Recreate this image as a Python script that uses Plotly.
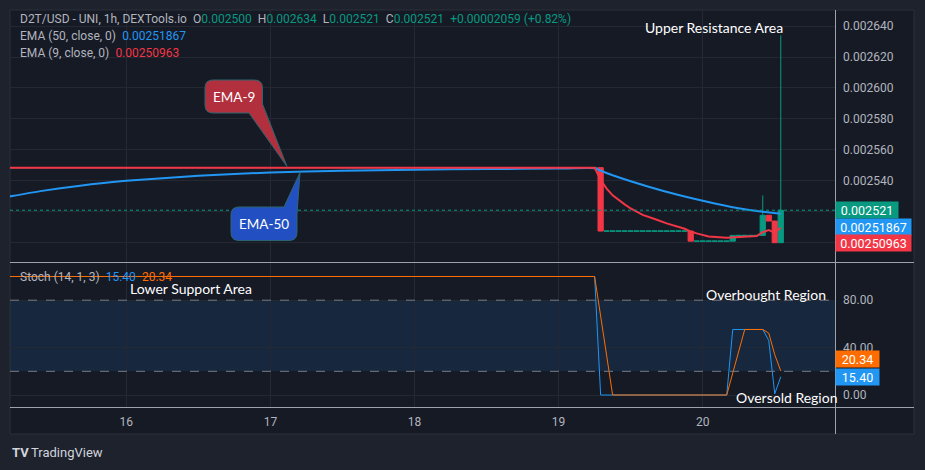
import pandas as pd
import plotly.graph_objects as go

# ------------------------------------------------------------------ data
MONTH = "2024-03-"

# traded hourly candles
CANDLE_TIME = ["19 07:00", "19 22:00", "20 05:00", "20 10:00", "20 11:00", "20 12:00", "20 13:00"]
CANDLE_OPEN = [0.0025485, 0.0025075, 0.0025010, 0.0025047, 0.0025177, 0.0025140, 0.0025000]
CANDLE_HIGH = [0.0025485, 0.0025075, 0.0025047, 0.0025306, 0.0025177, 0.0025140, 0.0026340]
CANDLE_LOW = [0.0025075, 0.0025010, 0.0025010, 0.0025047, 0.0025140, 0.0025000, 0.0025000]
CANDLE_CLOSE = [0.0025075, 0.0025010, 0.0025047, 0.0025177, 0.0025140, 0.0025000, 0.0025210]

# runs of flat (no-trade) hourly candles: start, end, price
DOJI_START = ["15 04:00", "19 08:00", "19 23:00", "20 06:00"]
DOJI_END = ["19 06:00", "19 21:00", "20 04:00", "20 09:00"]
DOJI_PRICE = [0.0025485, 0.0025075, 0.0025010, 0.0025047]

# EMA (50, close)
EMA50_TIME = ["15 04:00", "15 10:00", "15 16:00", "16 00:00", "16 12:00", "17 00:00", "17 12:00",
              "18 00:00", "18 12:00", "19 00:00", "19 06:00", "19 07:00", "19 09:00", "19 15:00",
              "19 20:00", "20 02:00", "20 07:00", "20 10:00", "20 13:00"]
EMA50_VAL = [0.0025295, 0.0025335, 0.0025367, 0.0025400, 0.0025432, 0.0025454, 0.0025465,
             0.0025472, 0.0025476, 0.0025479, 0.0025481, 0.0025466, 0.0025436, 0.0025362,
             0.0025308, 0.0025254, 0.0025216, 0.0025200, 0.00251867]

# EMA (9, close)
EMA9_TIME = ["15 04:00", "19 06:00", "19 07:00", "19 08:00", "19 09:00", "19 10:00", "19 11:00",
             "19 12:00", "19 13:00", "19 14:00", "19 16:00", "19 18:00", "19 21:00", "19 22:00",
             "19 23:00", "20 01:00", "20 04:00", "20 05:00", "20 09:00", "20 10:00", "20 11:00",
             "20 12:00", "20 13:00"]
EMA9_VAL = [0.0025485, 0.0025485, 0.0025405, 0.0025350, 0.0025306, 0.0025274, 0.0025248,
            0.0025221, 0.0025198, 0.0025180, 0.0025153, 0.0025125, 0.0025090, 0.0025072,
            0.0025060, 0.0025040, 0.0025032, 0.0025034, 0.0025043, 0.0025068, 0.0025081,
            0.0025065, 0.00250963]

# Stochastic (14, 1, 3)
STOCH_K_TIME = ["15 04:00", "19 06:00", "19 07:00", "20 04:00", "20 05:00", "20 10:00",
                "20 11:00", "20 12:00", "20 13:00"]
STOCH_K = [100, 100, 0, 0, 55.3, 55.3, 46.0, 1.0, 15.40]
STOCH_D_TIME = ["15 04:00", "19 06:00", "19 07:00", "19 08:00", "19 09:00", "20 04:00", "20 05:00",
                "20 06:00", "20 07:00", "20 10:00", "20 11:00", "20 12:00", "20 13:00"]
STOCH_D = [100, 100, 66.7, 33.3, 0, 0, 18.4, 36.9, 55.3, 55.3, 52.2, 34.0, 20.34]

LEGEND_OHLC = ["0.002500", "0.002634", "0.002521", "0.002521"]
LEGEND_CHANGE = "+0.00002059 (+0.82%)"

PRICE_TICKS = [0.00250, 0.00252, 0.00254, 0.00256, 0.00258, 0.00260, 0.00262, 0.00264]
PRICE_TICK_TEXT = ["", "", "0.002540", "0.002560", "0.002580", "0.002600", "0.002620", "0.002640"]
STOCH_TICKS = [0, 40, 80]
STOCH_TICK_TEXT = ["0.00", "40.00", "80.00"]
DAY_TICKS = ["16 00:00", "17 00:00", "18 00:00", "19 00:00", "20 00:00"]
DAY_TICK_TEXT = ["16", "17", "18", "19", "20"]

# ------------------------------------------------------------------ helpers
def T(s):
    return pd.Timestamp(MONTH + s)

W, H = 925, 470
PL, PR, PT, PB = 10, 836, 10, 407


def fx(p):
    return (p - PL) / (PR - PL)


def fy(p):
    return (PB - p) / (PB - PT)


BG_OUT = "#1e222d"
BG_IN = "#161a25"
GRID = "#242833"
TXT = "#b2b5be"
UP = "#089981"
DOWN = "#f23645"
BLUE = "#2196f3"
ORANGE = "#ff6d00"
SEP = "#9ea2ab"

doji_t, doji_p = [], []
for s, e, p in zip(DOJI_START, DOJI_END, DOJI_PRICE):
    for t in pd.date_range(T(s), T(e), freq="1h"):
        doji_t.append(t)
        doji_p.append(p)

fig = go.Figure()

fig.add_trace(go.Candlestick(
    x=doji_t, open=doji_p, high=doji_p, low=doji_p, close=doji_p,
    increasing=dict(line=dict(color=UP, width=1), fillcolor=UP),
    decreasing=dict(line=dict(color=UP, width=1), fillcolor=UP),
    whiskerwidth=0, hoverinfo="skip", xaxis="x", yaxis="y"))

fig.add_trace(go.Candlestick(
    x=[T(s) for s in CANDLE_TIME], open=CANDLE_OPEN, high=CANDLE_HIGH,
    low=CANDLE_LOW, close=CANDLE_CLOSE,
    increasing=dict(line=dict(color=UP, width=1), fillcolor=UP),
    decreasing=dict(line=dict(color=DOWN, width=1), fillcolor=DOWN),
    whiskerwidth=0, xaxis="x", yaxis="y"))

fig.add_trace(go.Scatter(x=[T(s) for s in EMA50_TIME], y=EMA50_VAL, mode="lines",
                         line=dict(color=BLUE, width=2, shape="spline", smoothing=0.5),
                         xaxis="x", yaxis="y"))
fig.add_trace(go.Scatter(x=[T(s) for s in EMA9_TIME], y=EMA9_VAL, mode="lines",
                         line=dict(color=DOWN, width=2),
                         xaxis="x", yaxis="y"))

fig.add_trace(go.Scatter(x=[T(s) for s in STOCH_K_TIME], y=STOCH_K, mode="lines",
                         line=dict(color=BLUE, width=1), xaxis="x", yaxis="y2"))
fig.add_trace(go.Scatter(x=[T(s) for s in STOCH_D_TIME], y=STOCH_D, mode="lines",
                         line=dict(color=ORANGE, width=1), xaxis="x", yaxis="y2"))

SPLIT = fy(262.5)

shapes = [
    # inner panel background (covers plot + axis areas)
    dict(type="rect", xref="paper", yref="paper", x0=fx(10), x1=fx(914), y0=fy(434), y1=fy(10),
         fillcolor=BG_IN, line=dict(color="#2a2e39", width=1), layer="below"),
    # stochastic band 20-80
    dict(type="rect", xref="paper", yref="y2", x0=0, x1=1, y0=20, y1=80,
         fillcolor="rgba(33,150,243,0.12)", line=dict(width=0), layer="below"),
    dict(type="line", xref="paper", yref="y2", x0=0, x1=1, y0=80, y1=80,
         line=dict(color="#787b86", width=1, dash="dash")),
    dict(type="line", xref="paper", yref="y2", x0=0, x1=1, y0=20, y1=20,
         line=dict(color="#787b86", width=1, dash="dash")),
    # last close dotted line
    dict(type="line", xref="paper", yref="y", x0=0, x1=1, y0=CANDLE_CLOSE[-1], y1=CANDLE_CLOSE[-1],
         line=dict(color=UP, width=1, dash="dot")),
    # separators
    dict(type="line", xref="paper", yref="paper", x0=fx(835.5), x1=fx(835.5), y0=fy(434), y1=fy(10),
         line=dict(color=SEP, width=1)),
    dict(type="line", xref="paper", yref="paper", x0=fx(10), x1=fx(914), y0=SPLIT, y1=SPLIT,
         line=dict(color=SEP, width=1)),
    dict(type="line", xref="paper", yref="paper", x0=fx(10), x1=fx(914), y0=fy(407.5), y1=fy(407.5),
         line=dict(color=SEP, width=1)),
]


def P(x, y):
    return f"{fx(x):.5f},{fy(y):.5f}"


def callout_bottom_tail(x0, y0, x1, y1, r, tb_left, tr_top, tip):
    # rounded box, bottom-right corner replaced by tail to tip
    return ("M " + P(x0 + r, y0) + " L " + P(x1 - r, y0) + " Q " + P(x1, y0) + " " + P(x1, y0 + r) +
            " L " + P(x1, tr_top) + " L " + P(*tip) + " L " + P(tb_left, y1) +
            " L " + P(x0 + r, y1) + " Q " + P(x0, y1) + " " + P(x0, y1 - r) +
            " L " + P(x0, y0 + r) + " Q " + P(x0, y0) + " " + P(x0 + r, y0) + " Z")


def callout_top_tail(x0, y0, x1, y1, r, tt_left, tr_down, tip):
    # rounded box, top-right corner replaced by tail to tip
    return ("M " + P(x0 + r, y0) + " L " + P(tt_left, y0) + " L " + P(*tip) + " L " + P(x1, tr_down) +
            " L " + P(x1, y1 - r) + " Q " + P(x1, y1) + " " + P(x1 - r, y1) +
            " L " + P(x0 + r, y1) + " Q " + P(x0, y1) + " " + P(x0, y1 - r) +
            " L " + P(x0, y0 + r) + " Q " + P(x0, y0) + " " + P(x0 + r, y0) + " Z")


shapes.append(dict(type="path", xref="paper", yref="paper",
                   path=callout_bottom_tail(205, 80, 262.5, 113, 8, 249, 104, (287, 166.5)),
                   fillcolor="#b22f3d", line=dict(color="#2d6670", width=1), layer="above"))
shapes.append(dict(type="path", xref="paper", yref="paper",
                   path=callout_top_tail(231, 207, 297, 240.5, 8, 284, 214, (300, 172.5)),
                   fillcolor="#2250c2", line=dict(color="#2d6670", width=1), layer="above"))

ann = []


def text(x, y, s, size=14, color="white", xanchor="left", family="Lato"):
    ann.append(dict(xref="paper", yref="paper", x=fx(x), y=fy(y), text=s, showarrow=False,
                    xanchor=xanchor, yanchor="middle", font=dict(family=family, size=size, color=color)))


def c(col, s):
    return f"<span style='color:{col}'>{s}</span>"


SP = "\u2002"
text(18, 19, "D2T/USD - UNI, 1h, DEXTools.io" + SP + "O" + c(UP, LEGEND_OHLC[0]) + SP + "H" + c(UP, LEGEND_OHLC[1]) +
     SP + "L" + c(UP, LEGEND_OHLC[2]) + SP + "C" + c(UP, LEGEND_OHLC[3]) + SP + c(UP, LEGEND_CHANGE),
     size=12, color=TXT, family="Roboto")
text(18, 36, "EMA (50, close, 0)" + SP + c(BLUE, f"{EMA50_VAL[-1]:.8f}"), size=12, color=TXT, family="Roboto")
text(18, 53, "EMA (9, close, 0)" + SP + c(DOWN, f"{EMA9_VAL[-1]:.8f}"), size=12, color=TXT, family="Roboto")
text(18, 277, "Stoch (14, 1, 3)" + SP + c(BLUE, f"{STOCH_K[-1]:.2f}") + SP + c(ORANGE, f"{STOCH_D[-1]:.2f}"),
     size=12, color=TXT, family="Roboto")

text(714, 27, "Upper Resistance Area", xanchor="center")
text(128, 288, "Lower Support Area")
text(704, 294.5, "Overbought Region")
text(734, 397, "Oversold Region")
text(233.7, 96.5, "EMA-9", size=13.5, xanchor="center")
text(264, 223.7, "EMA-50", size=13.5, xanchor="center")

# TradingView logo
text(10, 452, "<b>TV</b>", size=13, color="#d1d4dc", family="Roboto")
text(29, 452, "TradingView", size=13, color="#d1d4dc", family="Roboto")


def axis_label(val, yref, col, w, yshift):
    ann.append(dict(xref="paper", yref=yref, x=fx(835), y=val, xanchor="left", yanchor="middle",
                    text=f"{val:.8f}".rstrip("0") if yref == "y" else f"{val:.2f}",
                    showarrow=False, bgcolor=col, borderpad=2, width=w, height=12, yshift=yshift,
                    font=dict(family="Roboto", size=12.5, color="white")))


axis_label(CANDLE_CLOSE[-1], "y", UP, 58, 0)
axis_label(EMA50_VAL[-1], "y", BLUE, 71, -12.7)
axis_label(EMA9_VAL[-1], "y", DOWN, 71, -15.6)
axis_label(STOCH_D[-1], "y2", ORANGE, 39, 11.8)
axis_label(STOCH_K[-1], "y2", BLUE, 39, 0)

fig.update_layout(
    width=W, height=H,
    margin=dict(l=PL, r=W - PR, t=PT, b=H - PB),
    paper_bgcolor=BG_OUT, plot_bgcolor="rgba(0,0,0,0)",
    showlegend=False,
    font=dict(family="Roboto", size=12, color=TXT),
    boxgap=0.08, boxgroupgap=0.05,
    xaxis=dict(type="date", range=[T("15 04:38"), T("20 22:12")], anchor="y2",
               tickvals=[T(s) for s in DAY_TICKS], ticktext=DAY_TICK_TEXT,
               showgrid=True, gridcolor=GRID, gridwidth=1, zeroline=False, showline=False,
               ticks="", ticklabelstandoff=6, rangeslider=dict(visible=False),
               tickfont=dict(family="Roboto", size=12, color=TXT)),
    yaxis=dict(domain=[SPLIT, 1], range=[0.0024872, 0.0026504], side="right", anchor="x",
               tickvals=PRICE_TICKS, ticktext=PRICE_TICK_TEXT, showgrid=True, gridcolor=GRID,
               zeroline=False, showline=False, ticks="", ticklabelstandoff=6,
               tickfont=dict(family="Roboto", size=12, color=TXT)),
    yaxis2=dict(domain=[0, SPLIT], range=[-10.1, 111.8], side="right", anchor="x",
                tickvals=STOCH_TICKS, ticktext=STOCH_TICK_TEXT, showgrid=True, gridcolor=GRID,
                zeroline=False, showline=False, ticks="", ticklabelstandoff=6,
                tickfont=dict(family="Roboto", size=12, color=TXT)),
    shapes=shapes,
    annotations=ann,
)

fig.write_html("out.html")
